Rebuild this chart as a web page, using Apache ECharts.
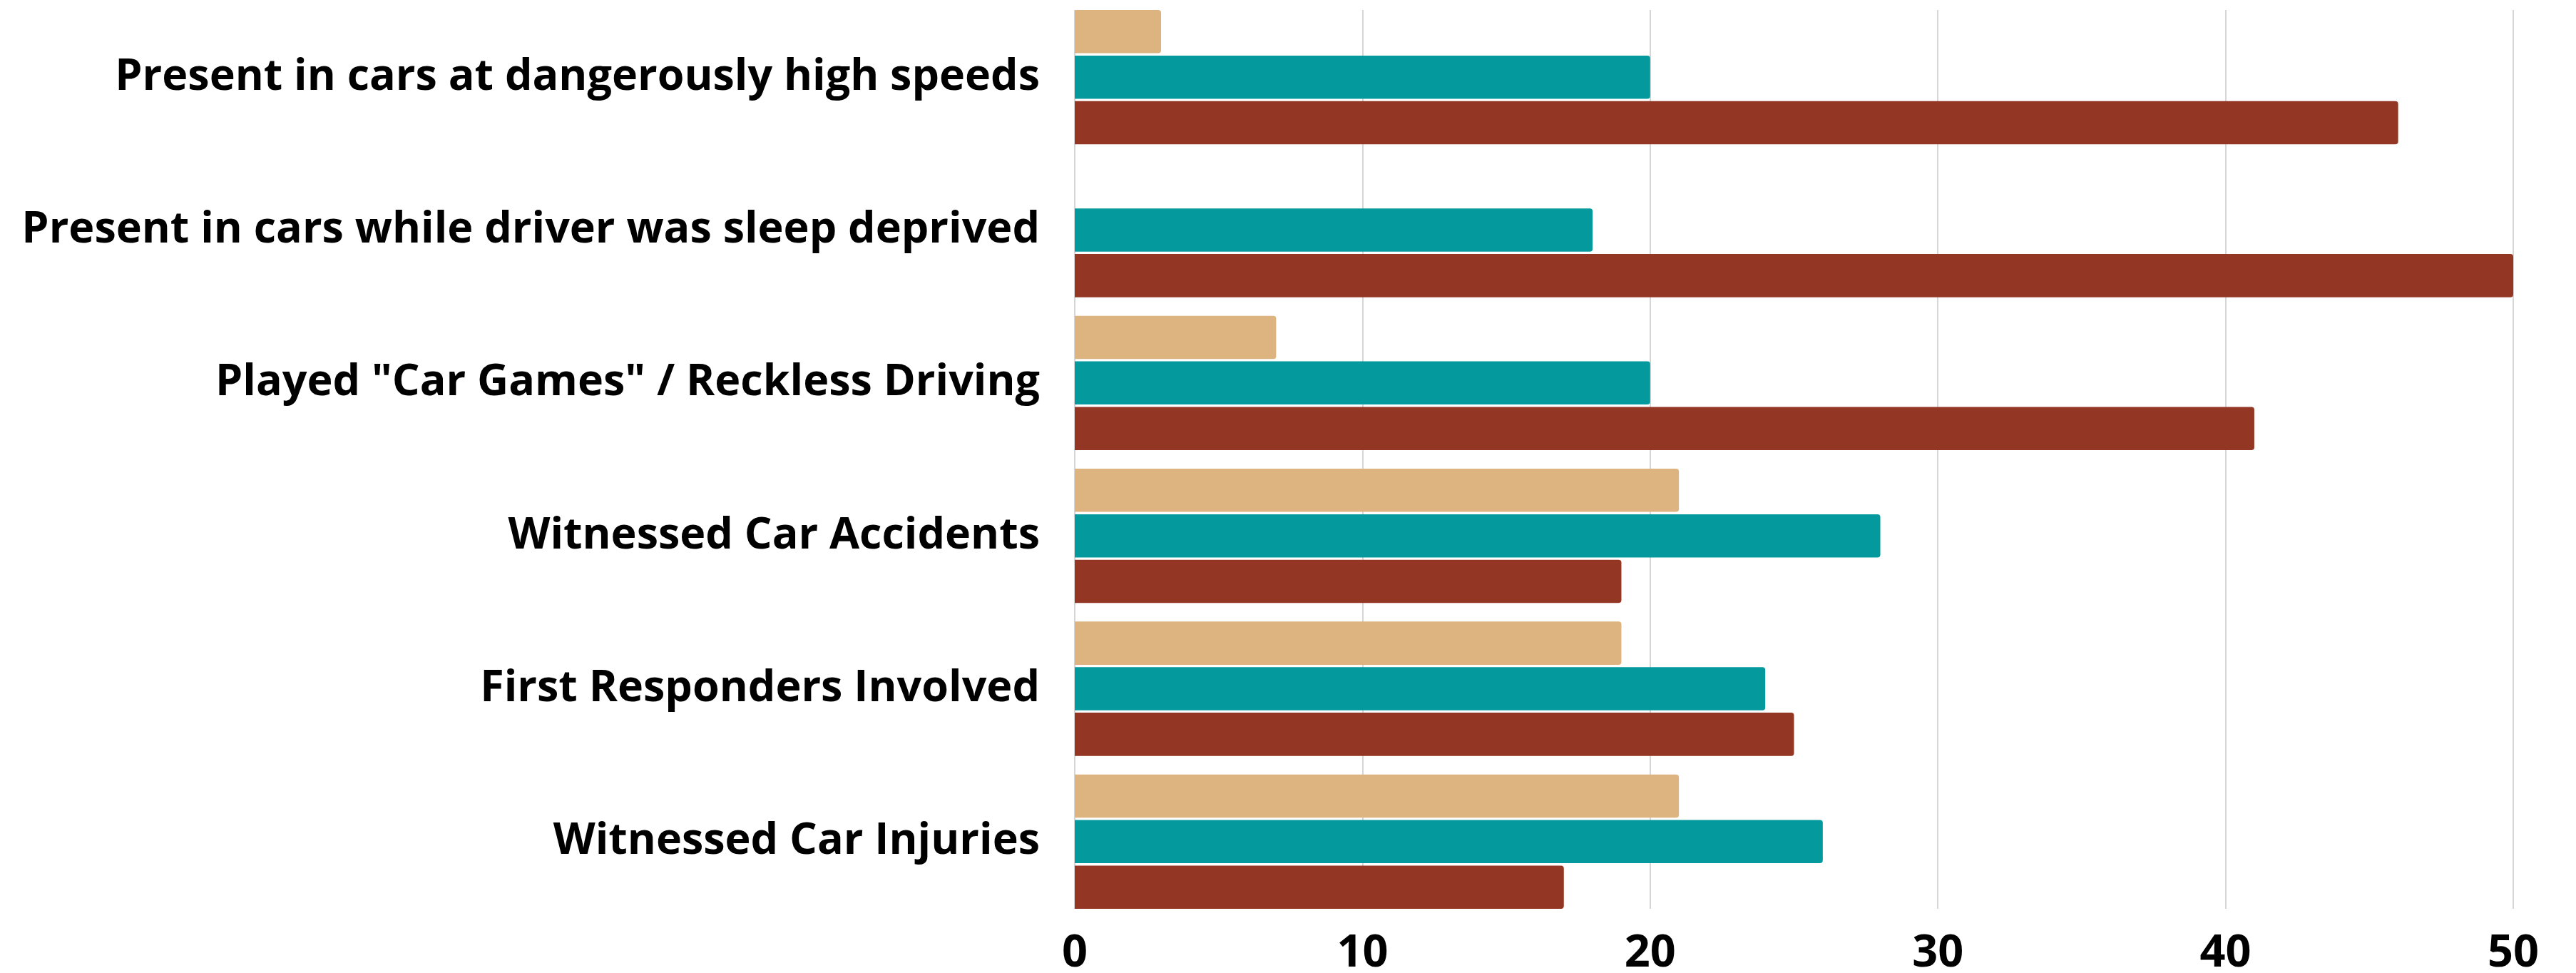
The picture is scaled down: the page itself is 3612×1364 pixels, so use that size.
<!DOCTYPE html>
<html>
<head>
<meta charset="utf-8">
<script src="https://cdn.jsdelivr.net/npm/echarts@6/dist/echarts.min.js"></script>
<style>
html,body{margin:0;padding:0;background:#fff;}
#chart{width:3612px;height:1364px;}
</style>
</head>
<body>
<div id="chart"></div>
<script>
const categories = [
  'Present in cars at dangerously high speeds',
  'Present in cars while driver was sleep deprived',
  'Played "Car Games" / Reckless Driving',
  'Witnessed Car Accidents',
  'First Responders Involved',
  'Witnessed Car Injuries'
];
const seriesTan = [3, 0, 7, 21, 19, 21];
const seriesTeal = [20, 18, 20, 28, 24, 26];
const seriesBrown = [46, 50, 41, 19, 25, 17];
const xTicks = [0, 10, 20, 30, 40, 50];

const FONT = '"Open Sans", "Noto Sans", sans-serif';
const chart = echarts.init(document.getElementById('chart'));
const barStyle = (c) => ({ color: c, borderRadius: [0, 4, 4, 0] });
const mkSeries = (data, color) => ({
  type: 'bar', data: data, xAxisIndex: 0, yAxisIndex: 0,
  barGap: '5.5%', barCategoryGap: '12.1%',
  itemStyle: barStyle(color), silent: true
});
chart.setOption({
  animation: false,
  backgroundColor: '#ffffff',
  grid: [
    { left: 1507, right: 88, top: 1, bottom: 77, containLabel: false, outerBoundsMode: 'none' },
    { left: 1507, right: 88, top: 14, bottom: 90, containLabel: false, outerBoundsMode: 'none' }
  ],
  xAxis: [
    { gridIndex: 0, type: 'value', min: 0, max: 50, interval: 10,
      axisLine: { show: false }, axisTick: { show: false }, axisLabel: { show: false }, splitLine: { show: false } },
    { gridIndex: 1, type: 'value', min: xTicks[0], max: xTicks[xTicks.length - 1], interval: 10,
      axisLine: { show: false }, axisTick: { show: false },
      axisLabel: { show: true, margin: 32, fontFamily: FONT, fontWeight: 'bold', fontSize: 63, color: '#000',
        formatter: (v) => String(v) },
      splitLine: { show: true, lineStyle: { color: '#d6d6d6', width: 2 } } }
  ],
  yAxis: [
    { gridIndex: 0, type: 'category', data: categories, inverse: true,
      axisLine: { show: false }, axisTick: { show: false }, splitLine: { show: false },
      axisLabel: { show: true, margin: 49, fontFamily: FONT, fontWeight: 'bold', fontSize: 61, color: '#000' } },
    { gridIndex: 1, type: 'value', min: 0, max: 1,
      axisLine: { show: false }, axisTick: { show: false }, axisLabel: { show: false }, splitLine: { show: false } }
  ],
  series: [
    mkSeries(seriesTan, '#DDB480'),
    mkSeries(seriesTeal, '#04999D'),
    mkSeries(seriesBrown, '#933724')
  ]
});
</script>
</body>
</html>
